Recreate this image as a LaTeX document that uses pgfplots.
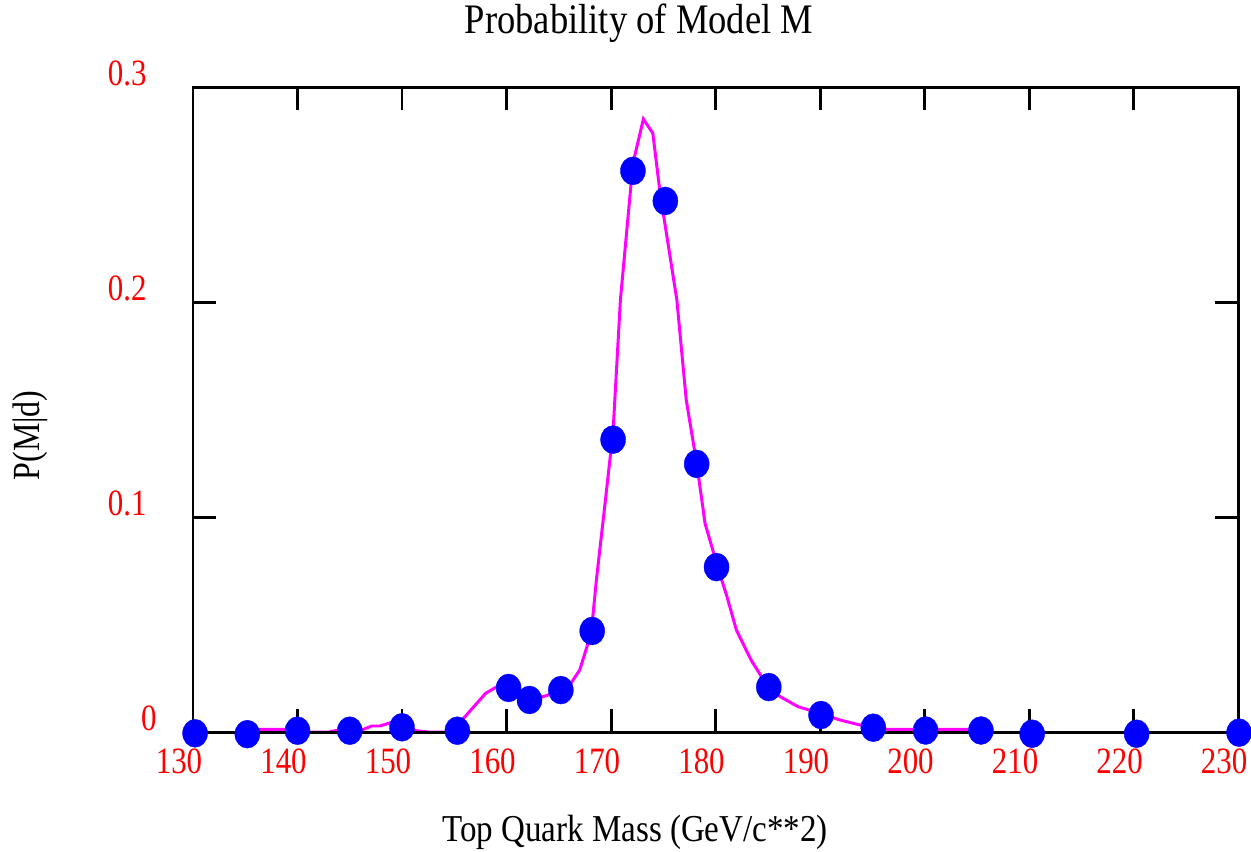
\documentclass[border=0pt]{standalone}
\usepackage{fontspec}
\setmainfont{Liberation Serif}
\usepackage{pgfplots}
\pgfplotsset{compat=1.18}
\definecolor{mag}{RGB}{255,0,255}
\definecolor{blu}{RGB}{0,0,255}
\definecolor{rd}{RGB}{255,0,0}

\pgfplotstableread{
x y
130.2 -0.0006
135.2 -0.0010
140.0 0.0006
145.0 0.0006
150.0 0.0022
155.3 0.0006
160.2 0.0205
162.2 0.0149
165.2 0.0195
168.2 0.0470
170.2 0.1360
172.1 0.2610
175.2 0.2470
178.2 0.1247
180.1 0.0767
185.1 0.0209
190.1 0.0079
195.1 0.0020
200.1 0.0007
205.4 0.0007
210.3 -0.0008
220.3 -0.0008
230.1 -0.0003
}\pts

\pgfplotstableread{
x y
135.8 0.0012
140.0 0.0012
141.0 0.0
143.0 0.0
144.2 0.0012
146.3 0.0012
147.1 0.0028
147.9 0.0028
149.0 0.0045
151.4 0.0006
152.5 0.0
155.0 0.0
155.9 0.0064
158.0 0.0180
159.2 0.0214
160.2 0.0214
162.2 0.0157
163.0 0.0157
164.5 0.0180
165.9 0.0207
167.0 0.0288
167.7 0.0397
168.2 0.0506
168.6 0.0707
169.4 0.1050
170.2 0.1400
170.9 0.2010
172.1 0.2645
173.1 0.2851
174.0 0.2785
174.7 0.2506
176.3 0.2010
177.2 0.1544
178.2 0.1250
179.0 0.0970
180.2 0.0769
181.1 0.0629
182.0 0.0474
183.4 0.0335
184.9 0.0219
186.2 0.0164
187.9 0.0118
190.0 0.0087
191.9 0.0056
193.8 0.0033
195.1 0.0026
196.5 0.0012
205.3 0.0012
206.1 0.0
}\curve

\begin{document}
\begin{tikzpicture}
\useasboundingbox (-19.3mm,-11.9mm) rectangle (105.8mm,73.2mm);
\begin{axis}[
    scale only axis,
    width=104.5mm, height=64.5mm,
    xmin=130, xmax=230, ymin=0, ymax=0.3,
    xtick={130,140,...,230},
    ytick={0,0.1,0.2,0.3},
    yticklabels={{0\kern-1.0mm},0.1,0.2,0.3},
    scaled y ticks=false,
    /pgf/number format/assume math mode=true,
    tick align=inside,
    major tick length=2.3mm,
    every tick/.style={black, line width=0.85pt},
    axis line style={line width=0.85pt},
    axis on top,
    clip=false,
    ticklabel style={text=rd, font=\fontsize{8.8}{10}\selectfont, yscale=1.2},
    xticklabel style={anchor=north, xshift=-1.4mm, yshift=-0.2mm},
    yticklabel style={anchor=east, xshift=-3.4mm, yshift=1.1mm},
    xlabel={Top Quark Mass (GeV/c**2)},
    xlabel style={at={(rel axis cs:0.423,-0.169)}, anchor=base,
        font=\fontsize{9.4}{11}\selectfont, yscale=1.15},
    ylabel={P(M|d)},
    ylabel style={at={(rel axis cs:-0.156,0.46)}, anchor=center,
        font=\fontsize{9.1}{11}\selectfont, yscale=1.2},
]
\addplot[color=blu, only marks, mark=*, mark size=1.25mm,
    mark options={draw=blu, fill=blu, line width=0.1pt, yscale=1.12}] table {\pts};
\addplot[color=mag, line width=0.85pt, no marks] table {\curve};
\node[anchor=base, font=\fontsize{10.4}{12}\selectfont, yscale=1.15]
    at (rel axis cs:0.4268,1.0837) {Probability of Model M};
\end{axis}
\end{tikzpicture}
\end{document}
